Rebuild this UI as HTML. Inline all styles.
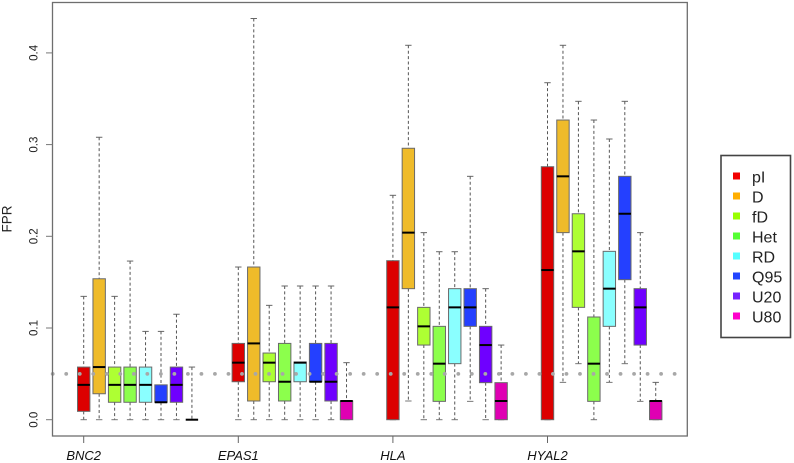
<!DOCTYPE html>
<html>
<head>
<meta charset="utf-8">
<title>FPR boxplots</title>
<style>
html,body{margin:0;padding:0;background:#fff;width:794px;height:463px;overflow:hidden}
svg{display:block;filter:blur(0.35px)}
text{font-family:"Liberation Sans",sans-serif}
</style>
</head>
<body>
<svg id="chart" width="794" height="463" viewBox="0 0 794 463" xmlns="http://www.w3.org/2000/svg">
<rect x="0" y="0" width="794" height="463" fill="#fff"/>
<g id="marks"></g>
<g id="threshold"></g>
<rect x="52.5" y="2.5" width="634.8" height="433.5" fill="none" stroke="#6e6e6e" stroke-width="1.3"/>
<g id="axes"></g>
<text transform="translate(11.5,219) rotate(-90)" text-anchor="middle" font-size="13.5" fill="#222">FPR</text>
<g id="legend">
<rect x="721" y="155.5" width="69.5" height="182" fill="#fff" stroke="#444" stroke-width="1.6"/>
</g>
</svg>
<script>
const categories = ["BNC2", "EPAS1", "HLA", "HYAL2"];
const seriesNames = ["pI", "D", "fD", "Het", "RD", "Q95", "U20", "U80"];
const yTicks = [0, 0.1, 0.2, 0.3, 0.4];
const yTickLabels = ["0.0", "0.1", "0.2", "0.3", "0.4"];
const thresholdValue = 0.05;

const whiskerHigh = [
  [0.1345, 0.308, 0.1345, 0.173, 0.0963, 0.0963, 0.115, 0.0574],
  [0.1665, 0.4375, 0.1247, 0.1458, 0.1458, 0.1458, 0.1458, 0.0622],
  [0.2447, 0.4083, 0.204, 0.1832, 0.1832, 0.2654, 0.1429, 0.0814],
  [0.3675, 0.4083, 0.3472, 0.3268, 0.3061, 0.3472, 0.204, 0.0407]
];
const q3Values = [
  [0.0574, 0.1537, 0.0574, 0.0574, 0.0574, 0.038, 0.0574, 0],
  [0.0832, 0.1665, 0.0727, 0.0832, 0.0629, 0.0832, 0.0832, 0.0204],
  [0.1734, 0.296, 0.1225, 0.1018, 0.1429, 0.1429, 0.1018, 0.0404],
  [0.2759, 0.3268, 0.2246, 0.112, 0.1836, 0.2654, 0.1429, 0.0204]
];
const medianValues = [
  [0.038, 0.0574, 0.038, 0.038, 0.038, 0.019, 0.038, 0],
  [0.0622, 0.0832, 0.0622, 0.0414, 0.0622, 0.0414, 0.0414, 0.0204],
  [0.1225, 0.204, 0.1018, 0.0611, 0.1225, 0.1225, 0.0814, 0.0204],
  [0.1632, 0.2654, 0.1836, 0.0611, 0.1429, 0.2246, 0.1225, 0.0204]
];
const q1Values = [
  [0.0091, 0.0283, 0.019, 0.019, 0.019, 0.019, 0.019, 0],
  [0.0414, 0.0204, 0.0414, 0.0204, 0.0414, 0.0414, 0.0204, 0],
  [0, 0.1429, 0.0814, 0.02, 0.0611, 0.1018, 0.0404, 0],
  [0, 0.204, 0.1225, 0.02, 0.1018, 0.1527, 0.0814, 0]
];
const whiskerLow = [
  [0, 0, 0, 0, 0, 0, 0, 0],
  [0, 0, 0, 0, 0, 0, 0, 0],
  [0, 0.0204, 0, 0, 0, 0.02, 0, 0],
  [0, 0.0407, 0.0611, 0, 0.0407, 0.0611, 0.02, 0]
];

const boxColors = ["#dc0000", "#efbb2a", "#aeff33", "#8cff4c", "#8affff", "#2440ff", "#6f00ff", "#df00b3"];
const legendColors = ["#f20000", "#ffae00", "#99ff00", "#55ff33", "#55ffff", "#2244ff", "#7722ff", "#ff00cc"];

const SVG_NS = "http://www.w3.org/2000/svg";
function yScale(v) { return 419.7 - 917 * v; }
function xScale(groupIndex, seriesIndex) { return 83.7 + 15.46 * (groupIndex * 10 + seriesIndex); }
function make(tag, parent, attrs, text) {
  const el = document.createElementNS(SVG_NS, tag);
  for (const k in attrs) el.setAttribute(k, attrs[k]);
  if (text !== undefined) el.textContent = text;
  parent.appendChild(el);
  return el;
}

const marksLayer = document.getElementById("marks");
const thresholdLayer = document.getElementById("threshold");
const axesLayer = document.getElementById("axes");
const legendLayer = document.getElementById("legend");

categories.forEach(function (cat, g) {
  seriesNames.forEach(function (name, s) {
    const x = xScale(g, s);
    const hi = yScale(whiskerHigh[g][s]);
    const q3 = yScale(q3Values[g][s]);
    const med = yScale(medianValues[g][s]);
    const q1 = yScale(q1Values[g][s]);
    const lo = yScale(whiskerLow[g][s]);
    const slug = cat.toLowerCase() + "-" + name.toLowerCase();

    const box = make("g", marksLayer, {});
    
    

    const upper = make("line", box, { x1: x, x2: x, y1: hi, y2: q3, stroke: "#555", "stroke-width": 1, "stroke-dasharray": "3 2.4" });
    
    

    const lower = make("line", box, { x1: x, x2: x, y1: q1, y2: lo, stroke: "#555", "stroke-width": 1, "stroke-dasharray": "3 2.4" });
    
    

    const capHigh = make("line", box, { x1: x - 3.2, x2: x + 3.2, y1: hi, y2: hi, stroke: "#666", "stroke-width": 1 });
    
    

    const capLow = make("line", box, { x1: x - 3.2, x2: x + 3.2, y1: lo, y2: lo, stroke: "#777", "stroke-width": 1 });
    
    

    if (q1 - q3 > 0.5) {
      const rect = make("rect", box, { x: x - 6.2, y: q3, width: 12.4, height: q1 - q3, fill: boxColors[s], stroke: "#6a6a6a", "stroke-width": 1 });
      
      
    }

    const medLine = make("line", box, { x1: x - 6.2, x2: x + 6.2, y1: med, y2: med, stroke: "#000", "stroke-width": 2 });
    
    
  });

  const tickX = xScale(g, 0);
  const xTick = make("line", axesLayer, { x1: tickX, x2: tickX, y1: 436, y2: 443, stroke: "#666", "stroke-width": 1 });
  
  

  const xLabel = make("text", axesLayer, { x: tickX, y: 460, "text-anchor": "middle", "font-size": 13, "font-style": "italic", fill: "#111" }, cat);
  
  
});

for (let dotX = 52.7; dotX < 678; dotX += 13.52) {
  const dot = make("circle", thresholdLayer, { cx: dotX, cy: yScale(thresholdValue), r: 1.9, fill: "#a8a8a8" });
  
  
}

yTicks.forEach(function (v, i) {
  const y = yScale(v);
  const yTick = make("line", axesLayer, { x1: 46, x2: 52.5, y1: y, y2: y, stroke: "#777", "stroke-width": 1 });
  
  

  const yLabel = make("text", axesLayer, { transform: "translate(37.5," + y + ") rotate(-90)", "text-anchor": "middle", "font-size": 11.5, fill: "#222" }, yTickLabels[i]);
  
  
});

seriesNames.forEach(function (name, s) {
  const y = 176 + 20 * s;
  const entry = make("g", legendLayer, {});
  
  

  const swatch = make("rect", entry, { x: 733, y: y - 3.5, width: 7, height: 7, fill: legendColors[s] });
  
  

  const label = make("text", entry, { x: 752, y: y + 6.3, "font-size": 16, fill: "#222" }, name);
  
  
});
</script>
</body>
</html>
